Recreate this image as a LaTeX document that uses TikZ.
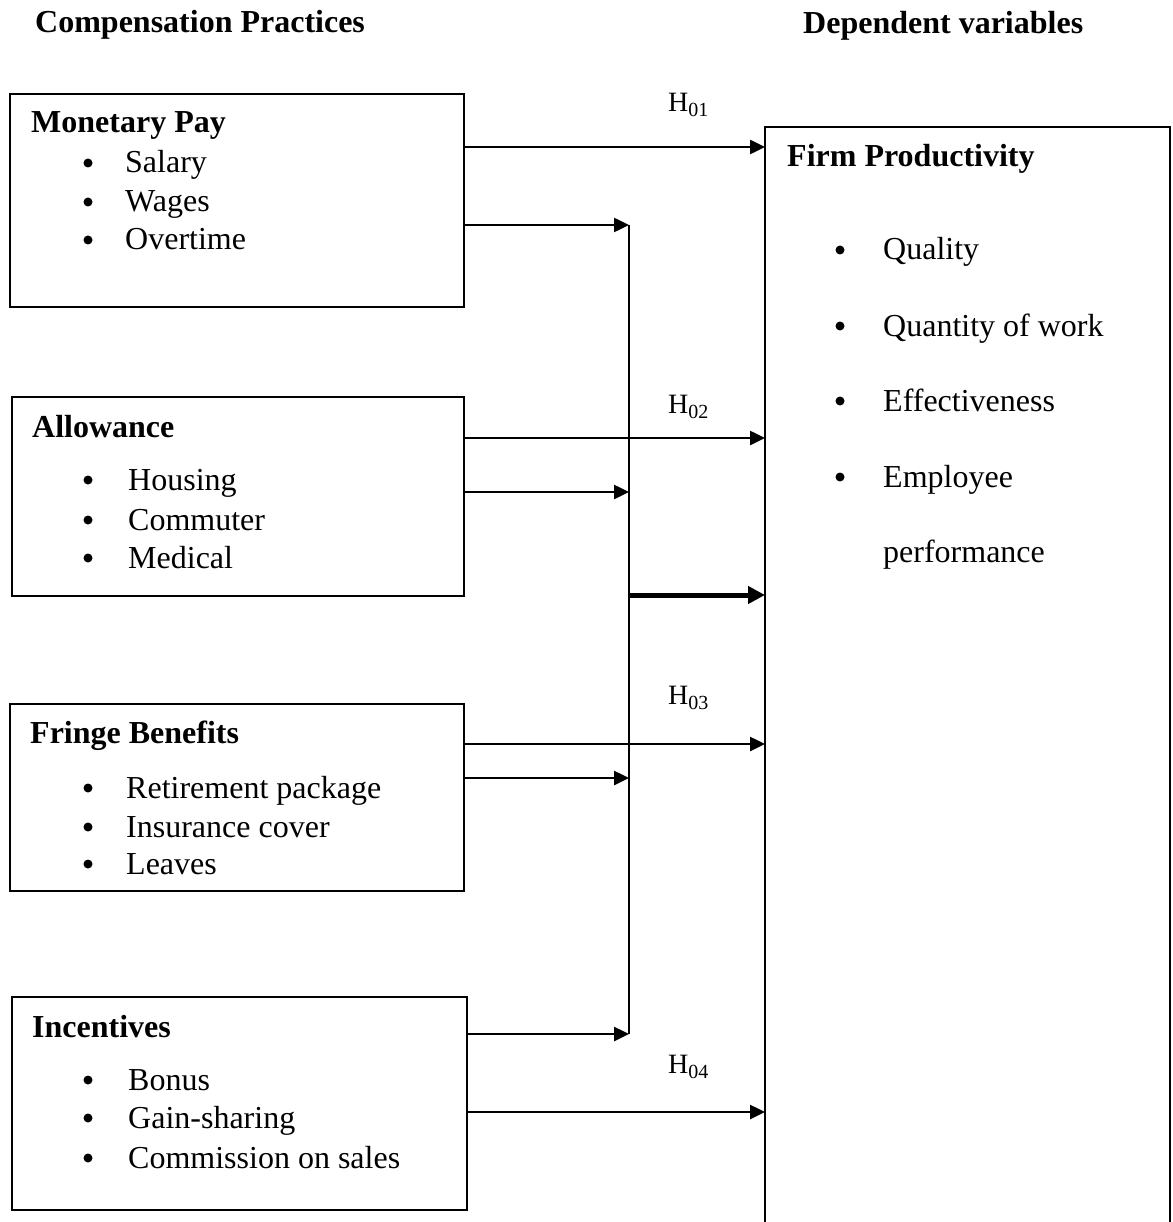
\documentclass[tikz,border=0pt]{standalone}
\usepackage{fontspec}
\setmainfont{Liberation Serif}
\usetikzlibrary{arrows.meta}
\tikzset{
  box/.style={draw, line width=2pt, rectangle, inner sep=0pt, anchor=north west},
  txt/.style={inner sep=0pt, anchor=base west, font=\fontsize{32}{38}\selectfont},
  ttl/.style={txt, font=\fontsize{32}{38}\selectfont\bfseries},
  hlab/.style={inner sep=0pt, anchor=base west, font=\fontsize{28}{32}\selectfont},
  bul/.style={circle, fill=black, inner sep=0pt, minimum size=9pt},
  arr/.style={line width=2.5pt, -{Triangle[length=15pt,width=14pt]}},
  thickarr/.style={line width=5pt, -{Triangle[length=17pt,width=17pt]}},
  vline/.style={line width=2pt}
}
\newcommand{\hsub}[1]{\raisebox{-5pt}{\fontsize{20}{20}\selectfont #1}}
\begin{document}
\begin{tikzpicture}[x=1pt,y=-1pt]
\useasboundingbox (0,0) rectangle (1172,1222);
% headings
\node[ttl] (hleft) at (35,33) {Compensation Practices};
\node[ttl] (hright) at (803,34) {Dependent variables};

% left boxes
\node[box, minimum width=454pt, minimum height=213pt] (mp) at (9,93) {};
\node[box, minimum width=452pt, minimum height=199pt] (al) at (11,396) {};
\node[box, minimum width=454pt, minimum height=187pt] (fb) at (9,703) {};
\node[box, minimum width=455pt, minimum height=213pt] (in) at (11,996) {};

% monetary pay texts
\node[ttl] (mpt) at (31,133) {Monetary Pay};
\node[bul] (mpb1) at (88,163) {};
\node[txt] (mp1) at (125,173) {Salary};
\node[bul] (mpb2) at (88,202) {};
\node[txt] (mp2) at (125,212) {Wages};
\node[bul] (mpb3) at (88,240) {};
\node[txt] (mp3) at (125,250) {Overtime};

% allowance texts
\node[ttl] (alt) at (32,437) {Allowance};
\node[bul] (alb1) at (88,480) {};
\node[txt] (al1) at (128,490) {Housing};
\node[bul] (alb2) at (88,520) {};
\node[txt] (al2) at (128,530) {Commuter};
\node[bul] (alb3) at (88,558) {};
\node[txt] (al3) at (128,568) {Medical};

% fringe texts
\node[ttl] (fbt) at (30,743) {Fringe Benefits};
\node[bul] (fbb1) at (88,788) {};
\node[txt] (fb1) at (126,798) {Retirement package};
\node[bul] (fbb2) at (88,827) {};
\node[txt] (fb2) at (126,837) {Insurance cover};
\node[bul] (fbb3) at (88,864) {};
\node[txt] (fb3) at (126,874) {Leaves};

% incentives texts
\node[ttl] (int) at (32,1037) {Incentives};
\node[bul] (inb1) at (88,1080) {};
\node[txt] (in1) at (128,1090) {Bonus};
\node[bul] (inb2) at (88,1118) {};
\node[txt] (in2) at (128,1128) {Gain-sharing};
\node[bul] (inb3) at (88,1158) {};
\node[txt] (in3) at (128,1168) {Commission on sales};

% right box (open at the bottom)
\node[inner sep=0pt, anchor=north west, minimum width=405pt, minimum height=1095pt] (fp) at (765,127) {};
\draw[line width=2pt] (fp.south west) -- (fp.north west) -- (fp.north east) -- (fp.south east);
\node[ttl] (fpt) at (787,167) {Firm Productivity};
\node[bul] (fpb1) at (840,250) {};
\node[txt] (fp1) at (883,260) {Quality};
\node[bul] (fpb2) at (840,326) {};
\node[txt] (fp2) at (883,336) {Quantity of work};
\node[bul] (fpb3) at (840,401) {};
\node[txt] (fp3) at (883,411) {Effectiveness};
\node[bul] (fpb4) at (840,477) {};
\node[txt] (fp4) at (883,487) {Employee};
\node[txt] (fp5) at (883,562) {performance};

% vertical joining line
\coordinate (vtop) at (629,225);
\coordinate (vbot) at (629,1034);
\draw[vline] (vtop) -- (vbot);

% y-levels
\coordinate (y1) at (0,147);
\coordinate (y2) at (0,225);
\coordinate (y3) at (0,438);
\coordinate (y4) at (0,492);
\coordinate (y5) at (0,595);
\coordinate (y6) at (0,744);
\coordinate (y7) at (0,778);
\coordinate (y8) at (0,1034);
\coordinate (y9) at (0,1112);

% arrows
\draw[arr] (mp.east |- y1) -- (fp.west |- y1);
\draw[arr] (mp.east |- y2) -- (vtop);
\draw[arr] (al.east |- y3) -- (fp.west |- y3);
\draw[arr] (al.east |- y4) -- (vtop |- y4);
\draw[thickarr] (vtop |- y5) -- (fp.west |- y5);
\draw[arr] (fb.east |- y6) -- (fp.west |- y6);
\draw[arr] (fb.east |- y7) -- (vtop |- y7);
\draw[arr] (in.east |- y8) -- (vbot);
\draw[arr] (in.east |- y9) -- (fp.west |- y9);

% hypothesis labels
\node[hlab] (h1) at (668,112) {H\hsub{01}};
\node[hlab] (h2) at (668,413) {H\hsub{02}};
\node[hlab] (h3) at (668,704) {H\hsub{03}};
\node[hlab] (h4) at (668,1073) {H\hsub{04}};
\end{tikzpicture}
\end{document}
